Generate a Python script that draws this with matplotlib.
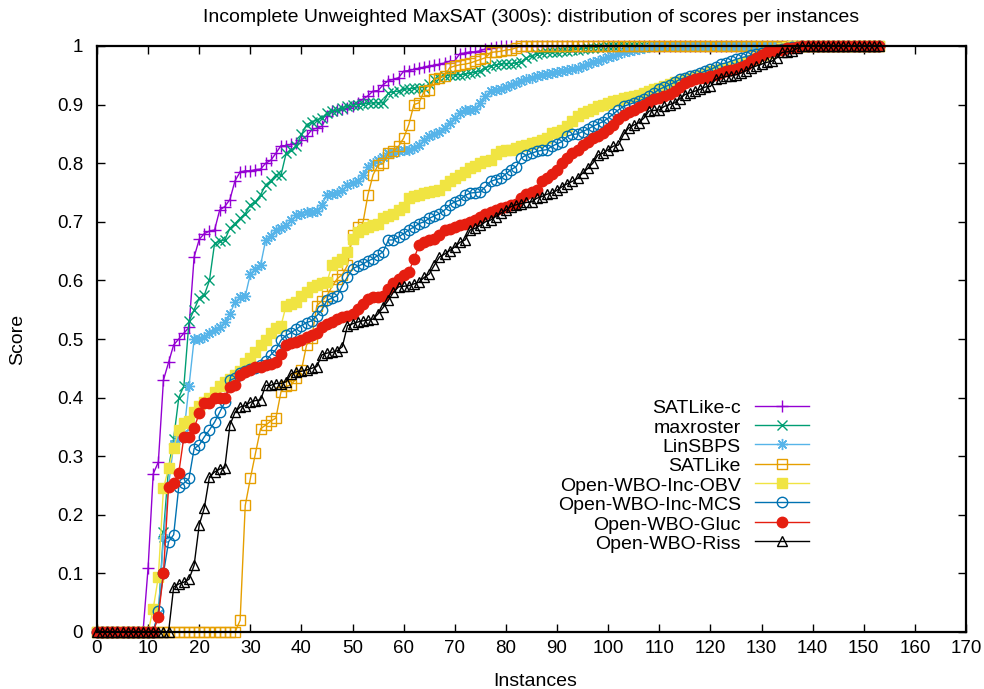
import matplotlib
matplotlib.use("Agg")
import matplotlib.pyplot as plt
import numpy as np

plt.rcParams["font.family"] = ["Liberation Sans", "DejaVu Sans"]
plt.rcParams["font.size"] = 14

TITLE = "Incomplete Unweighted MaxSAT (300s): distribution of scores per instances"

satlike_c = [
    0, 0, 0, 0, 0, 0, 0, 0, 0, 0,
    0.11, 0.27, 0.29, 0.43, 0.46, 0.49, 0.50, 0.51, 0.52, 0.64,
    0.67, 0.68, 0.684, 0.686, 0.72, 0.726, 0.738, 0.77, 0.785, 0.787,
    0.787, 0.789, 0.79, 0.80, 0.805, 0.817, 0.83, 0.83, 0.832, 0.834,
    0.84, 0.846, 0.857, 0.86, 0.863, 0.88, 0.889, 0.89, 0.892, 0.894,
    0.897, 0.903, 0.909, 0.915, 0.923, 0.924, 0.934, 0.941, 0.943, 0.946,
    0.957, 0.958, 0.96, 0.962, 0.964, 0.966, 0.967, 0.969, 0.971, 0.974,
    0.975, 0.987, 0.988, 0.99, 0.99, 0.992, 0.995, 0.997, 0.999, 1,
    1, 1, 1, 1, 1, 1, 1, 1, 1, 1,
    1, 1, 1, 1, 1, 1, 1, 1, 1, 1,
    1, 1, 1, 1, 1, 1, 1, 1, 1, 1,
    1, 1, 1, 1, 1, 1, 1, 1, 1, 1,
    1, 1, 1, 1, 1, 1, 1, 1, 1, 1,
    1, 1, 1, 1, 1, 1, 1, 1, 1, 1,
    1, 1, 1, 1, 1, 1, 1, 1, 1, 1,
    1, 1, 1, 1,
]

maxroster = [
    0, 0, 0, 0, 0, 0, 0, 0, 0, 0,
    0, 0, 0.03, 0.17, 0.28, 0.33, 0.40, 0.42, 0.53, 0.55,
    0.57, 0.575, 0.60, 0.663, 0.667, 0.669, 0.689, 0.697, 0.706, 0.714,
    0.729, 0.734, 0.746, 0.763, 0.77, 0.78, 0.78, 0.817, 0.822, 0.83,
    0.849, 0.866, 0.87, 0.874, 0.877, 0.886, 0.889, 0.891, 0.895, 0.897,
    0.9, 0.9, 0.901, 0.902, 0.903, 0.903, 0.903, 0.92, 0.922, 0.923,
    0.926, 0.927, 0.928, 0.929, 0.929, 0.935, 0.943, 0.946, 0.949, 0.95,
    0.951, 0.951, 0.952, 0.954, 0.955, 0.958, 0.963, 0.966, 0.968, 0.969,
    0.97, 0.97, 0.971, 0.973, 0.98, 0.983, 0.987, 0.988, 0.989, 0.989,
    0.99, 0.991, 0.992, 0.993, 0.994, 0.995, 0.996, 0.997, 0.998, 0.999,
    1, 1, 1, 1, 1, 1, 1, 1, 1, 1,
    1, 1, 1, 1, 1, 1, 1, 1, 1, 1,
    1, 1, 1, 1, 1, 1, 1, 1, 1, 1,
    1, 1, 1, 1, 1, 1, 1, 1, 1, 1,
    1, 1, 1, 1, 1, 1, 1, 1, 1, 1,
    1, 1, 1, 1,
]

linsbps = [
    0, 0, 0, 0, 0, 0, 0, 0, 0, 0,
    0, 0, 0.03, 0.16, 0.25, 0.32, 0.33, 0.34, 0.42, 0.50,
    0.50, 0.503, 0.51, 0.515, 0.52, 0.529, 0.543, 0.563, 0.571, 0.573,
    0.611, 0.62, 0.626, 0.669, 0.675, 0.686, 0.69, 0.694, 0.703, 0.711,
    0.714, 0.717, 0.717, 0.718, 0.729, 0.746, 0.748, 0.749, 0.754, 0.763,
    0.766, 0.769, 0.78, 0.794, 0.80, 0.806, 0.811, 0.817, 0.818, 0.82,
    0.822, 0.823, 0.826, 0.831, 0.84, 0.846, 0.85, 0.854, 0.86, 0.869,
    0.877, 0.885, 0.891, 0.891, 0.892, 0.903, 0.915, 0.923, 0.925, 0.926,
    0.93, 0.934, 0.937, 0.94, 0.943, 0.946, 0.949, 0.951, 0.953, 0.954,
    0.956, 0.957, 0.959, 0.96, 0.963, 0.966, 0.969, 0.972, 0.974, 0.978,
    0.981, 0.983, 0.986, 0.989, 0.991, 0.993, 0.995, 0.997, 0.999, 1,
    1, 1, 1, 1, 1, 1, 1, 1, 1, 1,
    1, 1, 1, 1, 1, 1, 1, 1, 1, 1,
    1, 1, 1, 1, 1, 1, 1, 1, 1, 1,
    1, 1, 1, 1, 1, 1, 1, 1, 1, 1,
    1, 1, 1, 1,
]

satlike = [
    0, 0, 0, 0, 0, 0, 0, 0, 0, 0,
    0, 0, 0, 0, 0, 0, 0, 0, 0, 0,
    0, 0, 0, 0, 0, 0, 0, 0, 0.02, 0.216,
    0.262, 0.305, 0.347, 0.353, 0.36, 0.365, 0.41, 0.419, 0.422, 0.433,
    0.447, 0.49, 0.501, 0.557, 0.565, 0.574, 0.59, 0.603, 0.61, 0.626,
    0.677, 0.691, 0.697, 0.746, 0.78, 0.797, 0.80, 0.817, 0.82, 0.829,
    0.843, 0.866, 0.90, 0.903, 0.923, 0.925, 0.943, 0.946, 0.949, 0.963,
    0.966, 0.968, 0.969, 0.971, 0.974, 0.977, 0.98, 0.989, 0.99, 0.991,
    0.993, 0.994, 0.997, 1, 1, 1, 1, 1, 1, 1,
    1, 1, 1, 1, 1, 1, 1, 1, 1, 1,
    1, 1, 1, 1, 1, 1, 1, 1, 1, 1,
    1, 1, 1, 1, 1, 1, 1, 1, 1, 1,
    1, 1, 1, 1, 1, 1, 1, 1, 1, 1,
    1, 1, 1, 1, 1, 1, 1, 1, 1, 1,
    1, 1, 1, 1, 1, 1, 1, 1, 1, 1,
    1, 1, 1, 1,
]

owbo_obv = [
    0, 0, 0, 0, 0, 0, 0, 0, 0, 0,
    0, 0.04, 0.094, 0.245, 0.28, 0.314, 0.345, 0.357, 0.36, 0.375,
    0.385, 0.393, 0.40, 0.41, 0.42, 0.427, 0.432, 0.439, 0.445, 0.459,
    0.468, 0.478, 0.49, 0.498, 0.51, 0.519, 0.523, 0.557, 0.56, 0.563,
    0.574, 0.58, 0.589, 0.592, 0.595, 0.598, 0.626, 0.632, 0.637, 0.649,
    0.671, 0.683, 0.688, 0.691, 0.695, 0.697, 0.706, 0.71, 0.714, 0.72,
    0.726, 0.74, 0.744, 0.746, 0.749, 0.751, 0.753, 0.754, 0.763, 0.77,
    0.774, 0.78, 0.785, 0.791, 0.795, 0.80, 0.804, 0.806, 0.815, 0.82,
    0.822, 0.823, 0.826, 0.829, 0.831, 0.834, 0.837, 0.84, 0.843, 0.851,
    0.854, 0.857, 0.863, 0.872, 0.88, 0.886, 0.889, 0.893, 0.897, 0.9,
    0.903, 0.906, 0.908, 0.911, 0.913, 0.915, 0.917, 0.92, 0.923, 0.926,
    0.929, 0.932, 0.935, 0.938, 0.94, 0.943, 0.946, 0.948, 0.95, 0.953,
    0.957, 0.959, 0.961, 0.963, 0.965, 0.967, 0.969, 0.972, 0.976, 0.98,
    0.984, 0.988, 0.991, 0.994, 0.997, 0.999, 1, 1, 1, 1,
    1, 1, 1, 1, 1, 1, 1, 1, 1, 1, 1, 1, 1, 1,
]

owbo_mcs = [
    0, 0, 0, 0, 0, 0, 0, 0, 0, 0,
    0, 0, 0.035, 0.10, 0.154, 0.166, 0.248, 0.254, 0.262, 0.313,
    0.319, 0.333, 0.345, 0.358, 0.375, 0.392, 0.43, 0.433, 0.442, 0.445,
    0.448, 0.45, 0.455, 0.462, 0.473, 0.482, 0.498, 0.506, 0.511, 0.517,
    0.523, 0.528, 0.531, 0.54, 0.55, 0.566, 0.57, 0.574, 0.591, 0.606,
    0.62, 0.624, 0.628, 0.633, 0.637, 0.643, 0.649, 0.669, 0.669, 0.674,
    0.68, 0.686, 0.691, 0.697, 0.70, 0.706, 0.71, 0.714, 0.72, 0.729,
    0.734, 0.737, 0.745, 0.749, 0.75, 0.751, 0.76, 0.769, 0.772, 0.774,
    0.782, 0.789, 0.794, 0.809, 0.814, 0.817, 0.82, 0.822, 0.823, 0.829,
    0.833, 0.837, 0.846, 0.849, 0.85, 0.854, 0.858, 0.863, 0.867, 0.871,
    0.877, 0.884, 0.891, 0.897, 0.9, 0.903, 0.906, 0.91, 0.914, 0.92,
    0.926, 0.93, 0.934, 0.938, 0.943, 0.946, 0.949, 0.951, 0.954, 0.957,
    0.96, 0.964, 0.969, 0.971, 0.974, 0.977, 0.98, 0.982, 0.984, 0.986,
    0.988, 0.99, 0.992, 0.994, 0.995, 0.997, 0.998, 0.999, 1, 1,
    1, 1, 1, 1, 1, 1, 1, 1, 1, 1, 1, 1, 1, 1,
]

owbo_gluc = [
    0, 0, 0, 0, 0, 0, 0, 0, 0, 0,
    0, 0, 0.026, 0.10, 0.248, 0.254, 0.272, 0.333, 0.333, 0.348,
    0.373, 0.39, 0.39, 0.40, 0.40, 0.40, 0.418, 0.421, 0.438, 0.444,
    0.447, 0.452, 0.453, 0.455, 0.458, 0.461, 0.475, 0.49, 0.493, 0.495,
    0.498, 0.504, 0.507, 0.51, 0.52, 0.525, 0.529, 0.534, 0.538, 0.54,
    0.543, 0.551, 0.56, 0.569, 0.571, 0.572, 0.574, 0.585, 0.595, 0.603,
    0.609, 0.614, 0.637, 0.66, 0.665, 0.669, 0.671, 0.678, 0.686, 0.688,
    0.691, 0.694, 0.697, 0.70, 0.703, 0.708, 0.714, 0.717, 0.72, 0.723,
    0.726, 0.728, 0.731, 0.74, 0.748, 0.751, 0.754, 0.769, 0.774, 0.782,
    0.789, 0.80, 0.809, 0.817, 0.822, 0.831, 0.837, 0.843, 0.847, 0.851,
    0.858, 0.866, 0.875, 0.883, 0.887, 0.891, 0.896, 0.9, 0.905, 0.909,
    0.912, 0.914, 0.918, 0.923, 0.93, 0.937, 0.94, 0.943, 0.945, 0.946,
    0.949, 0.951, 0.954, 0.957, 0.959, 0.96, 0.964, 0.968, 0.975, 0.98,
    0.985, 0.989, 0.991, 0.993, 0.994, 0.996, 0.997, 0.999, 1, 1,
    1, 1, 1, 1, 1, 1, 1, 1, 1, 1, 1, 1, 1, 1,
]

owbo_riss = [
    0, 0, 0, 0, 0, 0, 0, 0, 0, 0,
    0, 0, 0, 0, 0, 0.077, 0.082, 0.085, 0.09, 0.114,
    0.183, 0.212, 0.265, 0.273, 0.278, 0.28, 0.353, 0.375, 0.384, 0.386,
    0.392, 0.395, 0.396, 0.421, 0.421, 0.424, 0.424, 0.427, 0.441, 0.444,
    0.445, 0.447, 0.45, 0.453, 0.473, 0.476, 0.477, 0.48, 0.487, 0.523,
    0.526, 0.529, 0.531, 0.532, 0.534, 0.543, 0.554, 0.566, 0.58, 0.589,
    0.59, 0.591, 0.594, 0.597, 0.605, 0.611, 0.626, 0.64, 0.645, 0.651,
    0.657, 0.665, 0.669, 0.686, 0.689, 0.694, 0.70, 0.703, 0.709, 0.715,
    0.72, 0.726, 0.729, 0.731, 0.733, 0.734, 0.74, 0.743, 0.747, 0.749,
    0.754, 0.76, 0.765, 0.769, 0.774, 0.783, 0.791, 0.80, 0.814, 0.817,
    0.823, 0.829, 0.831, 0.849, 0.86, 0.865, 0.869, 0.877, 0.889, 0.89,
    0.891, 0.897, 0.9, 0.903, 0.91, 0.917, 0.92, 0.923, 0.926, 0.93,
    0.931, 0.943, 0.946, 0.948, 0.949, 0.951, 0.954, 0.958, 0.963, 0.966,
    0.969, 0.972, 0.974, 0.98, 0.989, 0.99, 0.991, 0.996, 1, 1,
    1, 1, 1, 1, 1, 1, 1, 1, 1, 1, 1, 1, 1, 1,
]

names = ["SATLike-c", "maxroster", "LinSBPS", "SATLike",
         "Open-WBO-Inc-OBV", "Open-WBO-Inc-MCS", "Open-WBO-Gluc", "Open-WBO-Riss"]
series = [satlike_c, maxroster, linsbps, satlike,
          owbo_obv, owbo_mcs, owbo_gluc, owbo_riss]
colors = ["#9400d3", "#009e73", "#56b4e9", "#e69f00",
          "#f0e442", "#0072b2", "#e51e10", "#000000"]
markers = ["+", "x", (8, 2, 0), "s", "s", "o", "o", "^"]
sizes = [8, 7, 8, 6.5, 6.5, 7.5, 7.5, 7]
filled = [True, True, True, False, True, False, True, False]

fig = plt.figure(figsize=(9.84, 6.89), dpi=100)
ax = fig.add_axes([97 / 984, 57 / 689, 869 / 984, 586 / 689])

for name, vals, c, m, s, f in zip(names, series, colors, markers, sizes, filled):
    x = np.arange(len(vals))
    ax.plot(x, vals, color=c, lw=1.0, marker=m, markersize=s,
            markerfacecolor=c if f else "none", markeredgecolor=c,
            markeredgewidth=1.0, label=name, clip_on=False)

ax.set_xlim(0, 170)
ax.set_ylim(0, 1)
ax.set_xticks(np.arange(0, 171, 10))
ax.set_yticks(np.arange(0, 1.01, 0.1))
ax.set_yticklabels(["0", "0.1", "0.2", "0.3", "0.4", "0.5",
                    "0.6", "0.7", "0.8", "0.9", "1"])
ax.tick_params(direction="in", length=6, width=1, top=True, right=True,
               labelsize=13.5)
ax.tick_params(axis="y", pad=10)
ax.tick_params(axis="x", pad=6)
for sp in ax.spines.values():
    sp.set_linewidth(1.6)

fig.text(531 / 984, 1 - 18 / 689, TITLE, ha="center", va="center", fontsize=14)
fig.text(18 / 984, 1 - 339 / 689, "Score", rotation=90, ha="center",
         va="center", fontsize=14)
fig.text(535 / 984, 1 - 681 / 689, "Instances", ha="center", va="center",
         fontsize=14)

fig.legend(loc="upper right", bbox_to_anchor=(809 / 984, 1 - 398 / 689),
           frameon=False, markerfirst=False, numpoints=1, handlelength=2.8,
           handletextpad=0.7, labelspacing=0.0, fontsize=14,
           borderaxespad=0, borderpad=0, handleheight=1.0)

fig.savefig("out.png", dpi=100)
